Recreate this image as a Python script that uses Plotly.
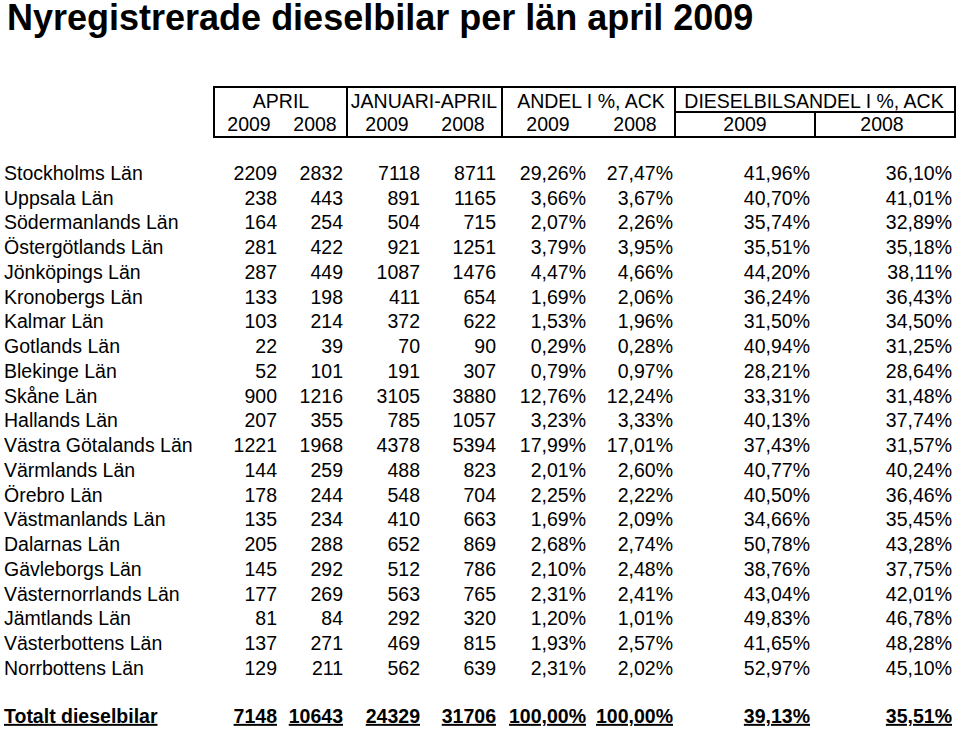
import plotly.graph_objects as go

# ---------------- data ----------------
lan = ["Stockholms Län", "Uppsala Län", "Södermanlands Län", "Östergötlands Län",
       "Jönköpings Län", "Kronobergs Län", "Kalmar Län", "Gotlands Län", "Blekinge Län",
       "Skåne Län", "Hallands Län", "Västra Götalands Län", "Värmlands Län", "Örebro Län",
       "Västmanlands Län", "Dalarnas Län", "Gävleborgs Län", "Västernorrlands Län",
       "Jämtlands Län", "Västerbottens Län", "Norrbottens Län"]
april_2009 = [2209, 238, 164, 281, 287, 133, 103, 22, 52, 900, 207, 1221, 144, 178, 135, 205, 145, 177, 81, 137, 129]
april_2008 = [2832, 443, 254, 422, 449, 198, 214, 39, 101, 1216, 355, 1968, 259, 244, 234, 288, 292, 269, 84, 271, 211]
janapr_2009 = [7118, 891, 504, 921, 1087, 411, 372, 70, 191, 3105, 785, 4378, 488, 548, 410, 652, 512, 563, 292, 469, 562]
janapr_2008 = [8711, 1165, 715, 1251, 1476, 654, 622, 90, 307, 3880, 1057, 5394, 823, 704, 663, 869, 786, 765, 320, 815, 639]
andel_2009 = [29.26, 3.66, 2.07, 3.79, 4.47, 1.69, 1.53, 0.29, 0.79, 12.76, 3.23, 17.99, 2.01, 2.25, 1.69, 2.68, 2.10, 2.31, 1.20, 1.93, 2.31]
andel_2008 = [27.47, 3.67, 2.26, 3.95, 4.66, 2.06, 1.96, 0.28, 0.97, 12.24, 3.33, 17.01, 2.60, 2.22, 2.09, 2.74, 2.48, 2.41, 1.01, 2.57, 2.02]
diesel_2009 = [41.96, 40.70, 35.74, 35.51, 44.20, 36.24, 31.50, 40.94, 28.21, 33.31, 40.13, 37.43, 40.77, 40.50, 34.66, 50.78, 38.76, 43.04, 49.83, 41.65, 52.97]
diesel_2008 = [36.10, 41.01, 32.89, 35.18, 38.11, 36.43, 34.50, 31.25, 28.64, 31.48, 37.74, 31.57, 40.24, 36.46, 35.45, 43.28, 37.75, 42.01, 46.78, 48.28, 45.10]

total_label = "Totalt dieselbilar"
total_counts = [7148, 10643, 24329, 31706]
total_pcts = [100.00, 100.00, 39.13, 35.51]

title = "Nyregistrerade dieselbilar per län april 2009"
group_headers = ["APRIL", "JANUARI-APRIL", "ANDEL I %, ACK", "DIESELBILSANDEL I %, ACK"]
year_headers = ["2009", "2008", "2009", "2008", "2009", "2008", "2009", "2008"]

# ---------------- layout positions (pixels) ----------------
W, H = 960, 730
col_right = [277, 343, 420, 496, 586, 673, 810, 952]
row_y0, row_step = 175, 24.75
total_y = 718
label_x = 4
group_x = [281, 424, 591, 814]
year_x = [249, 315, 387, 463, 548, 635, 745, 882]
hdr1_y, hdr2_y = 103, 126

FONT = "Liberation Sans, Arial, Helvetica, sans-serif"
BODY = 19.5


def pct(v):
    return f"{v:.2f}".replace(".", ",") + "%"


row_y = [row_y0 + i * row_step for i in range(len(lan))]
columns = [
    [str(v) for v in april_2009],
    [str(v) for v in april_2008],
    [str(v) for v in janapr_2009],
    [str(v) for v in janapr_2008],
    [pct(v) for v in andel_2009],
    [pct(v) for v in andel_2008],
    [pct(v) for v in diesel_2009],
    [pct(v) for v in diesel_2008],
]
totals = [str(v) for v in total_counts] + [pct(v) for v in total_pcts]

fig = go.Figure()
tf = dict(family=FONT, size=BODY, color="black")

fig.add_trace(go.Scatter(
    x=[label_x] * len(lan), y=row_y, text=lan, mode="text",
    textposition="middle right", textfont=tf, hoverinfo="skip", showlegend=False))

for cx, col in zip(col_right, columns):
    fig.add_trace(go.Scatter(
        x=[cx] * len(col), y=row_y, text=col, mode="text",
        textposition="middle left", textfont=tf, hoverinfo="skip", showlegend=False))

fig.add_trace(go.Scatter(
    x=[label_x], y=[total_y], text=[f"<u><b>{total_label}</b></u>"], mode="text",
    textposition="middle right", textfont=tf, hoverinfo="skip", showlegend=False))
fig.add_trace(go.Scatter(
    x=col_right, y=[total_y] * len(totals), text=[f"<u><b>{t}</b></u>" for t in totals],
    mode="text", textposition="middle left", textfont=tf, hoverinfo="skip", showlegend=False))

fig.add_trace(go.Scatter(
    x=group_x, y=[hdr1_y] * len(group_x), text=group_headers, mode="text",
    textposition="middle center", textfont=tf, hoverinfo="skip", showlegend=False))
fig.add_trace(go.Scatter(
    x=year_x, y=[hdr2_y] * len(year_x), text=year_headers, mode="text",
    textposition="middle center", textfont=tf, hoverinfo="skip", showlegend=False))

shapes = []
ln = dict(color="black", width=2)
shapes.append(dict(type="rect", xref="x", yref="y", x0=214, x1=955, y0=87, y1=137, line=ln))
for vx in [347, 502, 675]:
    shapes.append(dict(type="line", xref="x", yref="y", x0=vx, x1=vx, y0=87, y1=137, line=ln))
shapes.append(dict(type="line", xref="x", yref="y", x0=675, x1=955, y0=112, y1=112, line=ln))
shapes.append(dict(type="line", xref="x", yref="y", x0=815, x1=815, y0=112, y1=137, line=ln))

fig.update_layout(
    width=W, height=H, margin=dict(l=0, r=0, t=0, b=0),
    paper_bgcolor="white", plot_bgcolor="white",
    xaxis=dict(range=[0, W], visible=False, fixedrange=True),
    yaxis=dict(range=[H, 0], visible=False, fixedrange=True),
    shapes=shapes,
    annotations=[dict(
        text=f"<b>{title}</b>", x=5, y=17, xref="x", yref="y",
        xanchor="left", yanchor="middle", showarrow=False,
        font=dict(family=FONT, size=36, color="black"))],
)

# remove the default page margin so the figure sits at the window's top-left corner
fig.write_html("out.html", config={"displayModeBar": False},
               post_script="document.body.style.margin='0';")
